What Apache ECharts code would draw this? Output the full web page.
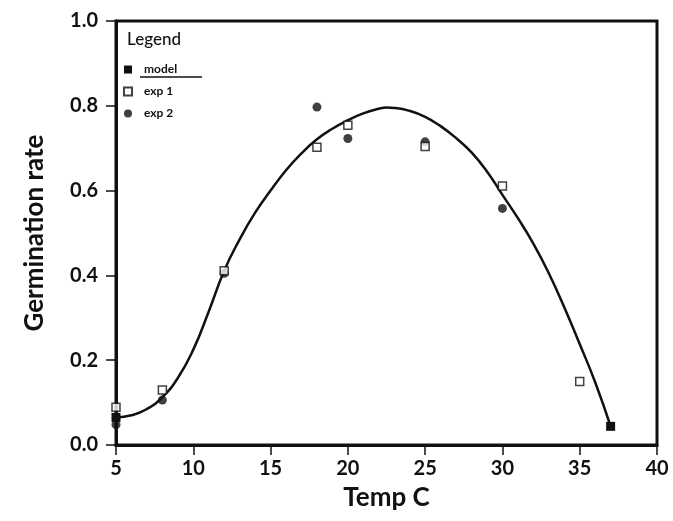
<!DOCTYPE html>
<html>
<head>
<meta charset="utf-8">
<script src="https://cdn.jsdelivr.net/npm/echarts@6/dist/echarts.min.js"></script>
<style>
  html, body { margin: 0; padding: 0; background: #fff; }
  #chart { width: 673px; height: 521px; }
</style>
</head>
<body>
<div id="chart"></div>
<script>
// fitted model curve
const modelTemp = [5, 6, 7, 8, 9, 10, 11, 12, 13, 14, 15, 16, 17, 18, 19, 20, 21, 22, 22.5,
  23, 24, 25, 26, 27, 28, 29, 30, 31, 32, 33, 34, 35, 36, 37];
const modelRate = [0.065, 0.070, 0.085, 0.113, 0.158, 0.225, 0.315, 0.411, 0.485, 0.548, 0.600,
  0.648, 0.688, 0.721, 0.746, 0.766, 0.782, 0.793, 0.796, 0.795, 0.788, 0.774, 0.752, 0.724,
  0.690, 0.645, 0.590, 0.535, 0.475, 0.405, 0.325, 0.238, 0.148, 0.044];

// observations
const exp1Temp = [5, 8, 12, 18, 20, 25, 30, 35];
const exp1Rate = [0.089, 0.130, 0.411, 0.702, 0.754, 0.704, 0.611, 0.150];
const exp2Temp = [5, 8, 12, 18, 20, 25, 30];
const exp2Rate = [0.048, 0.106, 0.405, 0.797, 0.723, 0.715, 0.558];

const xTicks = [5, 40, 5]; // min, max, step
const yTicks = [0, 1, 0.2];

const ink = "#111";
const font = "Lato";

const modelData = modelTemp.map((t, i) => ({
  value: [t, modelRate[i]],
  symbol: i === 0 || i === modelTemp.length - 1 ? "rect" : "none",
}));

const chart = echarts.init(document.getElementById("chart"));

chart.setOption({
  backgroundColor: "#fff",
  animation: false,
  textStyle: { fontFamily: font, color: ink },
  grid: {
    left: 116, right: 16, top: 21, bottom: 76,
    show: true, borderColor: ink, borderWidth: 3,
  },
  legend: {
    orient: "vertical",
    left: 118, top: 58,
    itemWidth: 8, itemHeight: 8, itemGap: 9,
    selectedMode: false,
    textStyle: { fontFamily: font, fontSize: 12, fontWeight: "bold", color: ink, lineHeight: 13, padding: [0, 0, 0, 7] },
    data: [
      { name: "model", icon: "rect" },
      { name: "exp 1", icon: "rect" },
      { name: "exp 2", icon: "circle" },
    ],
  },
  graphic: [
    { type: "text", left: 127, top: 31, style: { text: "Legend", font: "500 17px Lato", fill: ink } },
    { type: "line", shape: { x1: 140, y1: 77, x2: 202, y2: 77 }, style: { stroke: ink, lineWidth: 1.5 } },
  ],
  xAxis: {
    type: "value",
    min: xTicks[0], max: xTicks[1], interval: xTicks[2],
    name: "Temp C",
    nameLocation: "middle",
    nameGap: 40,
    nameTextStyle: { fontFamily: font, fontSize: 26, fontWeight: "bold", color: ink },
    axisLine: { show: true, onZero: false, lineStyle: { color: ink, width: 3 } },
    axisTick: { show: true, length: 10, lineStyle: { color: ink, width: 1.5 } },
    axisLabel: { fontFamily: font, fontSize: 20, fontWeight: "bold", color: ink, margin: 14 },
    splitLine: { show: false },
  },
  yAxis: {
    type: "value",
    min: yTicks[0], max: yTicks[1], interval: yTicks[2],
    name: "Germination rate",
    nameLocation: "middle",
    nameGap: 68,
    nameTextStyle: { fontFamily: font, fontSize: 26, fontWeight: "bold", color: ink },
    axisLine: { show: true, onZero: false, lineStyle: { color: ink, width: 3 } },
    axisTick: { show: true, length: 10, lineStyle: { color: ink, width: 1.5 } },
    axisLabel: {
      fontFamily: font, fontSize: 20, fontWeight: "bold", color: ink, margin: 18,
      formatter: (v) => v.toFixed(1),
    },
    splitLine: { show: false },
  },
  series: [
    {
      name: "model",
      type: "line",
      data: modelData,
      smooth: true,
      showSymbol: true,
      symbolSize: 9,
      lineStyle: { color: ink, width: 2.5 },
      itemStyle: { color: ink },
      z: 2,
    },
    {
      name: "exp 2",
      type: "scatter",
      data: exp2Temp.map((t, i) => [t, exp2Rate[i]]),
      symbol: "circle",
      symbolSize: 9,
      itemStyle: { color: ink },
      z: 3,
    },
    {
      name: "exp 1",
      type: "scatter",
      data: exp1Temp.map((t, i) => [t, exp1Rate[i]]),
      symbol: "rect",
      symbolSize: 8,
      itemStyle: { color: "#fff", borderColor: ink, borderWidth: 1.5 },
      z: 4,
    },
  ],
});
</script>
</body>
</html>
